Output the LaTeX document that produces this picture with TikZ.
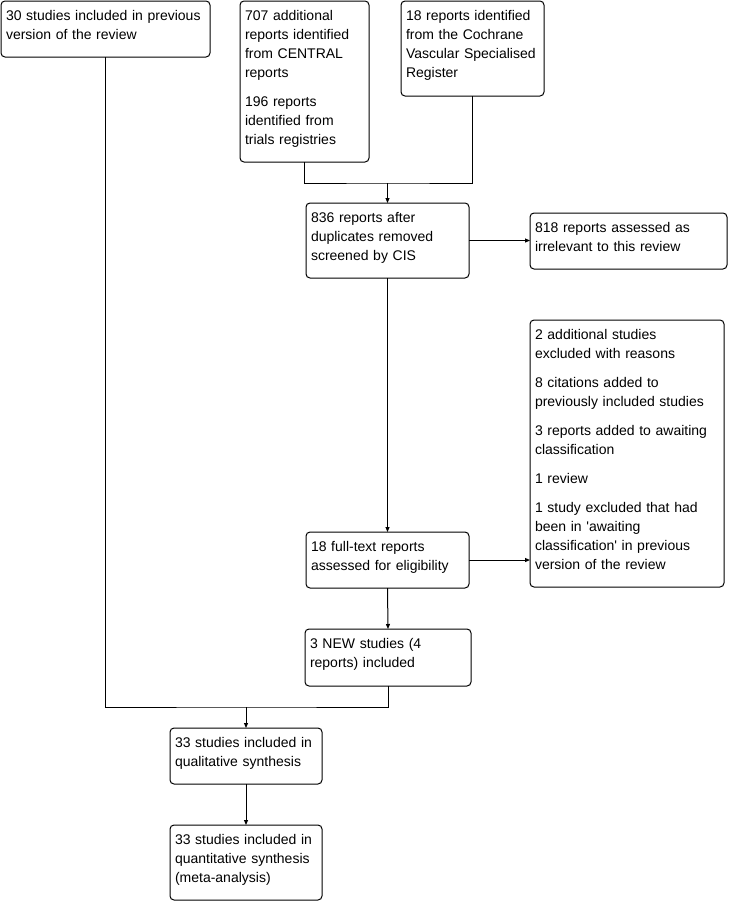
\documentclass[tikz,border=0pt]{standalone}
\usepackage{fontspec}
\setmainfont{Liberation Sans}
\usetikzlibrary{arrows.meta,positioning,calc}
\newcommand{\flowfont}{\fontsize{14}{19}\selectfont}

\begin{document}
\begin{tikzpicture}[>={Triangle[length=5pt,width=4pt]},x=1pt,y=-1pt,
    box/.style={draw,line width=1pt,rounded corners=4pt,anchor=north west,
      align=left,inner xsep=5pt,inner ysep=4pt,outer sep=0pt,
      text height=15.5pt,font=\flowfont},
    link/.style={draw,line width=1pt}]
  \useasboundingbox (0,0) rectangle (729,902);
  %% Sources
  \node[box,text width=199pt,text depth=32.5pt] (prev) at (1,1)
    {30 studies included in previous\\version of the review};
  \node[box,text width=119pt,text depth=137.5pt] (central) at (240,1)
    {707 additional\\reports identified\\from CENTRAL\\reports\\[10pt]196 reports\\identified from\\trials registries};
  \node[box,text width=133pt,text depth=71.5pt] (register) at (401,1)
    {18 reports identified\\from the Cochrane\\Vascular Specialised\\Register};
  %% Screening
  \node[box,text width=153pt,text depth=51.5pt] (screen) at (306,203)
    {836 reports after\\duplicates removed\\screened by CIS};
  \node[box,text width=187pt,text depth=32.5pt] (irrel) at (530,213)
    {818 reports assessed as\\irrelevant to this review};
  %% Eligibility
  \node[box,text width=184pt,text depth=243.5pt] (excl) at (530,320)
    {2 additional studies\\excluded with reasons\\[10pt]8 citations added to\\previously included studies\\[10pt]3 reports added to awaiting\\classification\\[10pt]1 review\\[10pt]1 study excluded that had\\been in \textquotesingle awaiting\\classification\textquotesingle{} in previous\\version of the review};
  \node[box,text width=153pt,text depth=32.5pt] (full) at (306,532)
    {18 full-text reports\\assessed for eligibility};
  \node[box,text width=156pt,text depth=33.5pt] (new) at (305,629)
    {3 NEW studies (4\\reports) included};
  %% Included
  \node[box,text width=142pt,text depth=32.5pt] (qual) at (170,728)
    {33 studies included in\\qualitative synthesis};
  \node[box,text width=142pt,text depth=51.5pt] (quant) at (170,825)
    {33 studies included in\\quantitative synthesis\\(meta-analysis)};
  %% Junctions
  \coordinate (join1) at ($(screen.north)+(0,-20)$);
  \coordinate (join2) at ($(qual.north)+(0,-21)$);
  %% Connectors
  \draw[link] (central.south) |- (join1) -| (register.south);
  \draw[link,->] (join1) -- (screen.north);
  \draw[link,->] (screen.east) -- (irrel.west |- screen.east);
  \draw[link,->] (screen.south) -- (full.north);
  \draw[link,->] (full.east) -- (excl.west |- full.east);
  \draw[link,->] (full.south) -- (new.north);
  \draw[link] (prev.south) |- (join2) -| (new.south);
  \draw[link,->] (join2) -- (qual.north);
  \draw[link,->] (qual.south) -- (quant.north);
\end{tikzpicture}
\end{document}
